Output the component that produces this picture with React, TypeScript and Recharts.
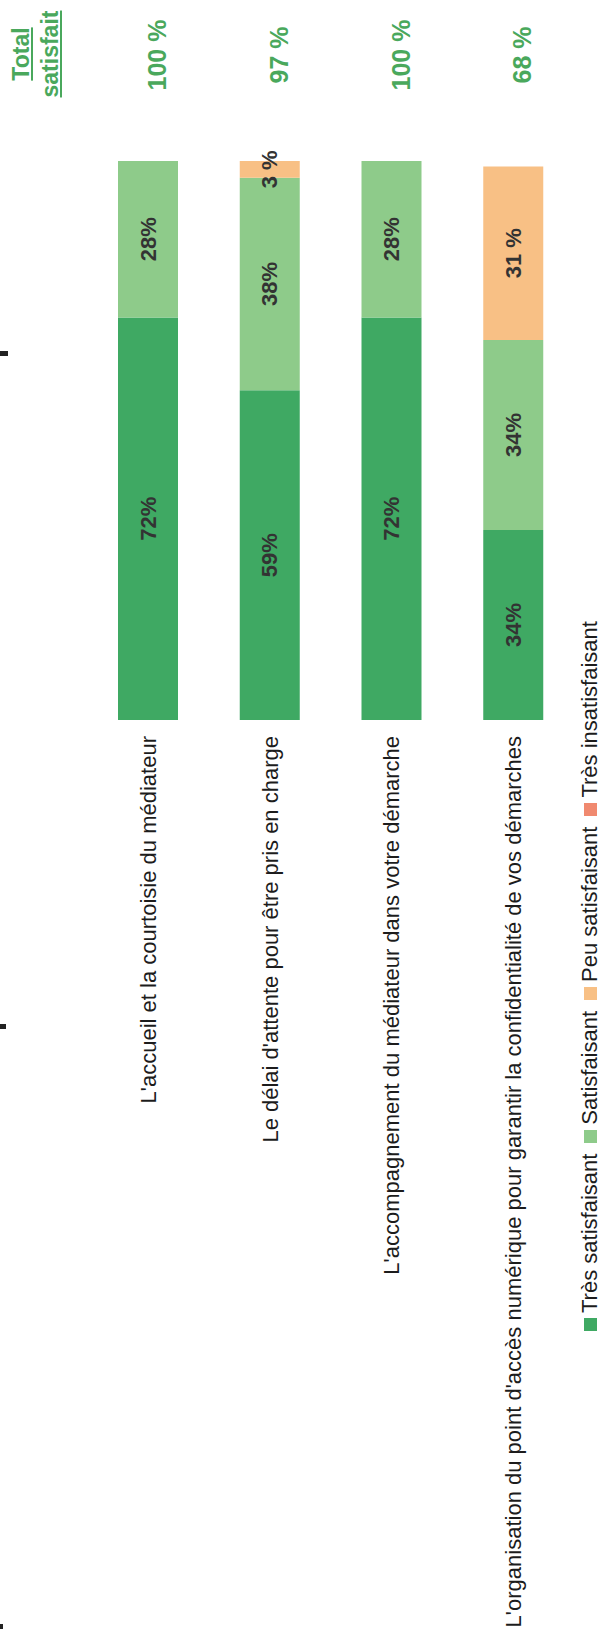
import { BarChart, Bar, XAxis, YAxis, Legend, LabelList } from "recharts";

// scanned page: the chart is printed sideways, so we draw it flat and turn it
const categories = [
  "L'accueil et la courtoisie du médiateur",
  "Le délai d'attente pour être pris en charge",
  "L'accompagnement du médiateur dans votre démarche",
  "L'organisation du point d'accès numérique pour garantir la confidentialité de vos démarches",
];

const seriesNames = ["Très satisfaisant", "Satisfaisant", "Peu satisfaisant", "Très insatisfaisant"];
const tresSatisfaisant = [72, 59, 72, 34];
const satisfaisant = [28, 38, 28, 34];
const peuSatisfaisant = [0, 3, 0, 31];
const tresInsatisfaisant = [0, 0, 0, 0];
const totalSatisfait = [100, 97, 100, 68];

const FONT = '"Liberation Sans", Arial, Helvetica, sans-serif';
const W = 1645; // chart width before rotation (= page height)
const H = 614;

const COLORS = ["#3fa963", "#8ecb8a", "#f8c085", "#f0896f"];
const GREEN_TXT = "#4aa85c";

function CategoryTick(props: any) {
  const { x, y, payload } = props;
  return (
    <text x={x} y={y} dy="0.36em" textAnchor="end" fontFamily={FONT} fontSize={22} fill="#1c1c1c">
      {payload.value}
    </text>
  );
}

// value inside a segment, never wrapped (the 3 % one is wider than its bar)
function SegmentLabel(props: any) {
  const { x, y, width, height, value, space } = props;
  if (!value) return null;
  return (
    <text
      x={x + width / 2}
      y={y + height / 2}
      textAnchor="middle"
      dominantBaseline="central"
      fontFamily={FONT}
      fontSize={22}
      fontWeight="bold"
      fill="#333"
    >
      {space ? `${value} %` : `${value}%`}
    </text>
  );
}

function TotalLabel(props: any) {
  const { x, y, height, value } = props;
  return (
    <text
      x={x + 665}
      y={y + height / 2 + 9}
      textAnchor="middle"
      dominantBaseline="central"
      fontFamily={FONT}
      fontSize={25}
      fontWeight="bold"
      fill={GREEN_TXT}
    >
      {`${value} %`}
    </text>
  );
}

function renderLegend() {
  return (
    <div
      style={{
        display: "flex",
        justifyContent: "flex-start",
        alignItems: "center",
        height: 30,
        fontFamily: FONT,
        fontSize: 22,
        color: "#1c1c1c",
        whiteSpace: "nowrap",
      }}
    >
      {seriesNames.map((name, i) => (
        <span key={name} style={{ display: "inline-flex", alignItems: "center", marginRight: 11 }}>
          <span style={{ display: "inline-block", width: 13, height: 13, background: COLORS[i], marginRight: 5 }} />
          {name}
        </span>
      ))}
    </div>
  );
}

export default function App() {
  const data = categories.map((name, i) => ({
    name,
    tres: tresSatisfaisant[i],
    sat: satisfaisant[i],
    peu: peuSatisfaisant[i],
    insat: tresInsatisfaisant[i],
    total: totalSatisfait[i],
  }));

  return (
    <div style={{ position: "absolute", left: 0, top: 0, width: 614, height: 1645, overflow: "hidden", background: "#fff" }}>
      <div
        style={{
          position: "absolute",
          left: 0,
          top: 0,
          width: W,
          height: H,
          transformOrigin: "0 0",
          transform: `translate(0px, ${W}px) rotate(-90deg)`,
        }}
      >
        <div
          style={{
            position: "absolute",
            left: 1531,
            top: 7,
            width: 120,
            textAlign: "center",
            fontFamily: FONT,
            fontWeight: "bold",
            fontSize: 23,
            lineHeight: "29px",
            color: GREEN_TXT,
            textDecoration: "underline",
          }}
        >
          Total
          <br />
          satisfait
        </div>
        <BarChart width={W} height={H} data={data} layout="vertical" margin={{ top: 87, right: 161, bottom: 40, left: 0 }}>
          <XAxis type="number" domain={[0, 100]} hide />
          <YAxis
            type="category"
            dataKey="name"
            width={925}
            axisLine={false}
            tickLine={false}
            tickMargin={10}
            interval={0}
            tick={<CategoryTick />}
          />
          <Legend
            layout="horizontal"
            verticalAlign="middle"
            align="center"
            wrapperStyle={{ left: 314, top: 575, width: 760, height: 30 }}
            content={renderLegend}
          />
          <Bar dataKey="tres" name={seriesNames[0]} stackId="a" fill={COLORS[0]} barSize={60} isAnimationActive={false}>
            <LabelList dataKey="tres" content={<SegmentLabel />} />
            <LabelList dataKey="total" content={<TotalLabel />} />
          </Bar>
          <Bar dataKey="sat" name={seriesNames[1]} stackId="a" fill={COLORS[1]} barSize={60} isAnimationActive={false}>
            <LabelList dataKey="sat" content={<SegmentLabel />} />
          </Bar>
          <Bar dataKey="peu" name={seriesNames[2]} stackId="a" fill={COLORS[2]} barSize={60} isAnimationActive={false}>
            <LabelList dataKey="peu" content={<SegmentLabel space />} />
          </Bar>
          <Bar dataKey="insat" name={seriesNames[3]} stackId="a" fill={COLORS[3]} barSize={60} isAnimationActive={false} />
        </BarChart>
      </div>
      {/* scanner marks on the left edge */}
      <div style={{ position: "absolute", left: 0, top: 351, width: 8, height: 5, background: "#222" }} />
      <div style={{ position: "absolute", left: 0, top: 1024, width: 6, height: 5, background: "#222" }} />
      <div style={{ position: "absolute", left: 0, top: 1624, width: 3, height: 5, background: "#222" }} />
    </div>
  );
}
